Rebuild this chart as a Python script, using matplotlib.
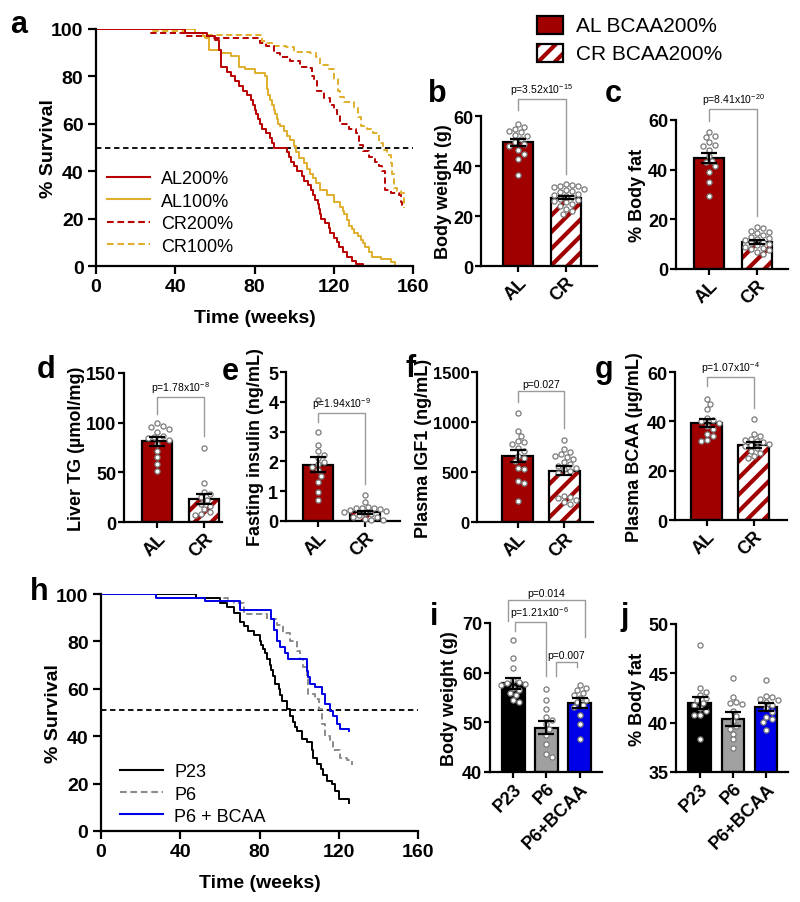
import numpy as np
import matplotlib
matplotlib.use('Agg')
import matplotlib.pyplot as plt
from matplotlib.patches import Rectangle
from matplotlib.lines import Line2D

plt.rcParams['font.family'] = ['Liberation Sans', 'DejaVu Sans']
plt.rcParams['mathtext.fontset'] = 'custom'
plt.rcParams['mathtext.rm'] = 'Liberation Sans'
plt.rcParams['mathtext.default'] = 'regular'
plt.rcParams['hatch.linewidth'] = 3.0

# ---------------- data ----------------
# survival curves (weeks, % survival)
al200 = [(0,100),(45,98.5),(56,97),(60,95.5),(62,91),(63,84),(66,82),(68,80),(70,78),(72,76),(74,74),(76,72),
         (78,70),(79,68),(80,66),(81,64),(82,62),(83,60),(84,58),(86,56),(88,54),(89,52),(90,50),(96.5,48),
         (97.5,46),(98.5,44),(100,42),(101.5,40),(104,38),(105,36),(107,34),(108.5,32),(109.5,30),(110.5,28),
         (112,26),(112.5,24),(113,22),(113.5,20),(115.5,18),(117.5,16),(118,14),(120,12),(121.5,10),(122.5,8),
         (124.5,6),(126.8,4),(129,2),(131,1),(135,0)]
al100 = [(0,100),(50,98.5),(54,97),(55,96),(57,91),(63,90),(68,88.5),(72,84),(75,83),(80,81.5),(85.5,80),
         (86.3,74.5),(87,72),(88,70),(89,68),(89.7,66),(90.5,64),(91.4,62),(92,60),(93,59),(95,57),(96.5,55),
         (98,53),(100,50.5),(101,48),(102.4,45.6),(105,43.5),(106.5,41),(108,39),(109.5,37),(111,35),(113,32),
         (116.7,30),(120,27),(123.4,25),(124.5,23),(125,22),(126.5,19.5),(127.7,17),(129,15.5),(130,14),
         (132,12.5),(133.6,11),(135,9.5),(136,8),(138,6),(139.5,4),(143.7,3),(148.7,1.5),(151,0)]
cr200 = [(0,100),(28,98.5),(45,97),(56,96),(83,94),(86,93),(90,90),(93,88),(98,86.5),(103,84),(107,83.5),
         (109,80),(110,78),(111.6,74),(115,71),(118,68),(120,66),(121.7,64),(123.4,60),(127.7,58),(131,56),
         (132.7,51),(135,48.5),(137.8,46),(141,44),(143,42),(144.5,40),(146,32),(148.7,31),(153,30),(154,27),(154.6,25)]
cr100 = [(0,100),(28,99),(45,98.5),(56,97.5),(84,95),(86,94),(90,93),(96,92.5),(100,90.5),(108,90),(111,88),
         (113,85),(117.5,83),(120,79),(122,74),(123.4,71.5),(125,69),(130,67),(132,63),(133.6,59),(137,58),
         (140,56),(143,52),(145,49),(147,47),(148.7,43.5),(149.6,39),(150.5,33),(152,31.5),(153.8,31),(155.5,24.5)]

p23 = [(0,100),(48,98.5),(60,96),(63.5,94.4),(67,92),(70,88),(72,86.7),(74.4,84.5),(77,82.5),(80,80),(81,78.5),
       (82,77),(83,75),(83.7,72.6),(85.4,70),(86,68),(87,65.6),(88,62),(89.6,60),(90.5,57.5),(91.2,55),(93.8,51.5),
       (95.5,48.7),(97,46),(98,44),(98.8,42.4),(101.3,39),(103.9,37.5),(106.4,34),(107.2,31),(108.9,28.4),(111,26),
       (112.3,23.5),(114,21),(116.5,20),(118,17),(119.9,13.6),(125,12)]
p6 = [(0,100),(48,98.5),(64,97),(67,96),(72,91.5),(84,89.5),(89,86.8),(92,83.5),(95.5,80),(99,76),(100.5,72.6),
      (102,69),(104,64),(104.7,57.6),(108,55.6),(109.8,51.5),(111.4,45),(113,40),(115.7,37.5),(117.3,34),
      (120.7,31),(124,30),(126.6,28)]
p6bcaa = [(0,100),(28,98.3),(52.5,96.9),(70,93.4),(86,89.5),(87.5,85),(88.7,80.3),(90.4,77.5),(93,75),(94.6,72.6),
          (103.9,67.7),(104.7,65),(105.6,62),(108,60.7),(111.4,58),(113,53.6),(115.7,50.8),(117.3,48.7),(119,45),
          (120.7,43),(125,42)]

groups2 = ['AL', 'CR']
groups3 = ['P23', 'P6', 'P6+BCAA']

# b: body weight
bw_mean = [49.5, 27.4]; bw_sem = [1.3, 0.7]
bw_al = [57, 55.5, 55, 54, 53.5, 52.5, 52, 51, 49.5, 49, 48, 46.5, 45, 43, 36.5]
bw_cr = [33, 32.5, 32, 32, 31.5, 31, 30.5, 30, 29.5, 29, 28.5, 28, 27.5, 27, 26.5, 26, 25.5, 25, 24, 23, 22, 21]
# c: body fat
bf_mean = [44.8, 11.0]; bf_sem = [2.0, 0.8]
bf_al = [55, 53.5, 53, 51, 50, 49.5, 48, 45.5, 43.5, 43, 41.5, 39, 35, 29.5]
bf_cr = [17, 16.5, 15.5, 15, 14.5, 13.5, 13, 12.5, 12, 11.5, 11, 10.5, 10, 9.5, 9, 8.5, 8, 7.5, 7, 6]
# d: liver TG
tg_mean = [81.5, 23.5]; tg_sem = [4.5, 5.0]
tg_al = [99.5, 97, 95.5, 94, 90.5, 87, 85.5, 84.5, 83, 78.5, 71, 65, 58.5, 51]
tg_cr = [74.5, 39.5, 30, 28.5, 25, 22, 18.5, 16.5, 13.5, 10, 8.5, 7]
# e: fasting insulin
ins_mean = [1.89, 0.30]; ins_sem = [0.25, 0.05]
ins_al = [4.05, 3.0, 2.55, 2.35, 2.2, 2.1, 1.98, 1.9, 1.8, 1.7, 1.52, 1.3, 0.97, 0.72]
ins_cr = [0.86, 0.64, 0.47, 0.45, 0.44, 0.42, 0.4, 0.38, 0.35, 0.3, 0.28, 0.25, 0.2, 0.15, 0.12, 0.08, 0.05, 0.02]
# f: plasma IGF1
igf_mean = [656, 512]; igf_sem = [60, 45]
igf_al = [1090, 915, 865, 815, 800, 780, 745, 715, 665, 645, 610, 545, 530, 410, 395, 215]
igf_cr = [825, 735, 700, 680, 665, 650, 630, 600, 580, 560, 545, 530, 510, 490, 260, 250, 240, 225, 200, 185]
# g: plasma BCAA
bc_mean = [39.3, 30.3]; bc_sem = [1.6, 1.2]
bc_al = [49, 47, 45, 41.5, 40.5, 40, 39.5, 38, 37, 35, 34, 32.5, 32]
bc_cr = [41, 35, 34, 33, 32.5, 32, 31.5, 31, 30.5, 30, 29, 28, 27, 26, 25]
# i: body weight (protein)
bwi_mean = [57.9, 48.9, 53.8]; bwi_sem = [1.1, 1.3, 1.0]
bwi_p23 = [66.5, 63, 61, 58.5, 58.2, 58, 57.8, 57.5, 57, 56.5, 56, 55.5, 54.5, 54]
bwi_p6 = [56.7, 54.5, 52.6, 51, 50.5, 49.7, 48.7, 47.5, 45.7, 43.7, 43]
bwi_bc = [57.5, 57, 56.5, 56, 55.5, 55, 54.5, 54, 53.5, 53, 51.5, 49.7, 46.6]
# j: body fat (protein)
bfj_mean = [42.0, 40.4, 41.6]; bfj_sem = [0.6, 0.7, 0.4]
bfj_p23 = [47.9, 43.5, 43.1, 42.8, 42.5, 42.3, 42, 41.8, 41.5, 41.2, 40.8, 40.8, 38.3]
bfj_p6 = [44.5, 42.6, 42.1, 42.0, 41.9, 41.2, 40.7, 40.2, 39.7, 39.4, 38.9, 38.3, 37.4]
bfj_bc = [44.3, 42.7, 42.6, 42.4, 42.3, 42.1, 41.8, 41.5, 41.1, 40.6, 40.4, 40.1, 39.3]

# ---------------- styling ----------------
RED_BAR = '#A00000'
RED_LINE = '#B80000'
GOLD = '#E0AE2C'
BLUE = '#0000E8'
GRAYBAR = '#A0A0A0'
BRACKET = '#9a9a9a'

W, H = 800, 903
fig = plt.figure(figsize=(W/100, H/100), dpi=100)


def add_ax(l, r, t, b):
    return fig.add_axes([l/W, 1 - b/H, (r - l)/W, (b - t)/H])


def base_style(ax, tl=4, pad=1.5):
    for s in ['top', 'right']:
        ax.spines[s].set_visible(False)
    for s in ['left', 'bottom']:
        ax.spines[s].set_linewidth(1.6)
    ax.tick_params(direction='out', length=tl, width=1.6, pad=pad, color='black')


def survival_panel(ax, series, xlabel='Time (weeks)'):
    base_style(ax, tl=6, pad=3)
    for data, color, ls, lab, z in series:
        t, s = zip(*data)
        ax.step(t, s, where='post', color=color, lw=1.4, ls=ls, label=lab, zorder=z)
    ax.set_xlim(0, 160)
    ax.set_ylim(0, 100)
    ax.set_xticks([0, 40, 80, 120, 160])
    ax.set_xticklabels(['0', '40', '80', '120', '160'], fontsize=14, fontweight='bold')
    ax.set_yticks([0, 20, 40, 60, 80, 100])
    ax.set_yticklabels(['0', '20', '40', '60', '80', '100'], fontsize=14, fontweight='bold')
    ax.set_xlabel(xlabel, fontsize=14, fontweight='bold', labelpad=10)
    ax.set_ylabel('% Survival', fontsize=14, fontweight='bold', labelpad=-4.5)


def swarm_x(ax, x0, vals, dpx=6.0):
    trans = ax.transData
    inv = trans.inverted()
    xs = np.zeros(len(vals))
    placed = []
    order = np.argsort(vals)[::-1]
    for i in order:
        px, py = trans.transform((x0, vals[i]))
        cx = px
        found = False
        for k in range(0, 30):
            for sgn in ([0] if k == 0 else [1, -1]):
                cx = px + sgn * k * dpx * 0.5
                if all((cx - qx) ** 2 + (py - qy) ** 2 >= (dpx * 0.95) ** 2 for qx, qy in placed):
                    found = True
                    break
            if found:
                break
        placed.append((cx, py))
        xs[i] = inv.transform((cx, py))[0]
    return xs


def bar_panel(ax, means, sems, dots, colors, hatched, xlim, ylim, yticks, ylabel, labels, width,
              lpad=3, ytfs=13):
    base_style(ax)
    x = np.arange(len(means))
    ax.set_xlim(*xlim)
    ax.set_ylim(ylim[0], ylim[1])
    b0 = ylim[0]
    for xi, m, c, h in zip(x, means, colors, hatched):
        if h:
            ax.bar(xi, m - b0, bottom=b0, width=width, color='white', edgecolor=c, hatch='//', lw=0, zorder=2)
            ax.bar(xi, m - b0, bottom=b0, width=width, fill=False, edgecolor='black', lw=1.6, zorder=2.5)
        else:
            ax.bar(xi, m - b0, bottom=b0, width=width, color=c, edgecolor='black', lw=1.6, zorder=2)
    for xi, d in zip(x, dots):
        xs = swarm_x(ax, xi, d)
        ax.plot(xs, d, 'o', ms=3.7, mfc='white', mec='#7a7a7a', mew=0.9, zorder=3, clip_on=False)
    ax.errorbar(x, means, yerr=sems, fmt='none', ecolor='black', elinewidth=1.6, capsize=6, capthick=1.6, zorder=4)
    ax.set_yticks(yticks)
    ax.set_yticklabels([str(v) for v in yticks], fontsize=ytfs, fontweight='bold')
    ax.set_xticks(x)
    ax.set_xticklabels(labels, fontsize=13, fontweight='bold', rotation=45, ha='right', rotation_mode='anchor')
    ax.set_ylabel(ylabel, fontsize=13, fontweight='bold', labelpad=lpad)


def bracket(ax, x1, x2, ytop, yl, yr, text, tx=None, ty=None):
    ax.plot([x1, x1, x2, x2], [yl, ytop, ytop, yr], color=BRACKET, lw=1.0, clip_on=False, zorder=5)
    if tx is None:
        tx = (x1 + x2) / 2
    if ty is None:
        ty = ytop
    ax.annotate(text, (tx, ty), xytext=(0, 1.5), textcoords='offset points', ha='center', va='bottom',
                fontsize=7.5, annotation_clip=False)


# ---------------- panel a ----------------
axa = add_ax(96, 413, 30, 267)
survival_panel(axa, [
    (cr100, GOLD, (0, (3.2, 1.8)), 'CR100%', 2),
    (cr200, RED_LINE, (0, (3.2, 1.8)), 'CR200%', 2.1),
    (al100, GOLD, '-', 'AL100%', 2.2),
    (al200, RED_LINE, '-', 'AL200%', 2.3),
])
axa.axhline(50, color='black', ls=(0, (3, 2)), lw=1.3, zorder=1)
h_a = [Line2D([], [], color=RED_LINE, lw=1.5), Line2D([], [], color=GOLD, lw=1.5),
       Line2D([], [], color=RED_LINE, lw=1.5, ls=(0, (3.2, 1.8))), Line2D([], [], color=GOLD, lw=1.5, ls=(0, (3.2, 1.8)))]
axa.legend(h_a, ['AL200%', 'AL100%', 'CR200%', 'CR100%'], loc='upper left', bbox_to_anchor=(0.035, 0.405),
           frameon=False, fontsize=13, handlelength=2.4, handletextpad=0.6, labelspacing=0.31,
           borderpad=0, borderaxespad=0)

# ---------------- panel b ----------------
axb = add_ax(481, 597, 117, 267)
bar_panel(axb, bw_mean, bw_sem, [bw_al, bw_cr], [RED_BAR, RED_BAR], [False, True], (-0.78, 1.66), (0, 60),
          [0, 20, 40, 60], 'Body weight (g)', groups2, 0.63, lpad=1.0)
bracket(axb, 0, 1, 66.8, 62.4, 36.8, r'p=3.52x10$^{-15}$')

# ---------------- panel c ----------------
axc = add_ax(676, 788, 121, 270)
bar_panel(axc, bf_mean, bf_sem, [bf_al, bf_cr], [RED_BAR, RED_BAR], [False, True], (-0.69, 1.65), (0, 60),
          [0, 20, 40, 60], '% Body fat', groups2, 0.625, lpad=1.5)
bracket(axc, 0, 1, 64.4, 59.6, 21.3, r'p=8.41x10$^{-20}$')

# ---------------- panel d ----------------
axd = add_ax(124, 222, 374, 523)
bar_panel(axd, tg_mean, tg_sem, [tg_al, tg_cr], [RED_BAR, RED_BAR], [False, True], (-0.70, 1.38), (0, 150),
          [0, 50, 100, 150], 'Liver TG (\u00b5mol/mg)', groups2, 0.64, lpad=0.5)
bracket(axd, 0, 1, 125.8, 108.7, 86.6, r'p=1.78x10$^{-8}$')

# ---------------- panel e ----------------
axe = add_ax(286, 400, 373, 522)
bar_panel(axe, ins_mean, ins_sem, [ins_al, ins_cr], [RED_BAR, RED_BAR], [False, True], (-0.68, 1.74), (0, 5),
          [0, 1, 2, 3, 4, 5], 'Fasting insulin (ng/mL)', groups2, 0.64)
bracket(axe, 0, 1, 3.62, 3.32, 1.24, r'p=1.94x10$^{-9}$')

# ---------------- panel f ----------------
axf = add_ax(477, 593, 373, 523)
bar_panel(axf, igf_mean, igf_sem, [igf_al, igf_cr], [RED_BAR, RED_BAR], [False, True], (-0.87, 1.62), (0, 1500),
          [0, 500, 1000, 1500], 'Plasma IGF1 (ng/mL)', groups2, 0.67, lpad=0.5, ytfs=12)
bracket(axf, 0, 1, 1310, 1200, 940, 'p=0.027')

# ---------------- panel g ----------------
axg = add_ax(675, 787, 373, 521)
bar_panel(axg, bc_mean, bc_sem, [bc_al, bc_cr], [RED_BAR, RED_BAR], [False, True], (-0.67, 1.71), (0, 60),
          [0, 20, 40, 60], 'Plasma BCAA (\u00b5g/mL)', groups2, 0.66)
bracket(axg, 0, 1, 58, 54.3, 45.4, r'p=1.07x10$^{-4}$')

# ---------------- panel h ----------------
axh = add_ax(101, 418, 595, 832)
survival_panel(axh, [
    (p6, '#8a8a8a', (0, (3.2, 1.8)), 'P6', 2),
    (p23, 'black', '-', 'P23', 2.1),
    (p6bcaa, BLUE, '-', 'P6 + BCAA', 2.2),
])
axh.axhline(51, color='black', ls=(0, (3, 2)), lw=1.3, zorder=1)
h_h = [Line2D([], [], color='black', lw=1.5), Line2D([], [], color='#8a8a8a', lw=1.5, ls=(0, (3.2, 1.8))),
       Line2D([], [], color=BLUE, lw=1.5)]
axh.legend(h_h, ['P23', 'P6', 'P6 + BCAA'], loc='upper left', bbox_to_anchor=(0.06, 0.285),
           frameon=False, fontsize=13, handlelength=2.4, handletextpad=0.6, labelspacing=0.28,
           borderpad=0, borderaxespad=0)

# ---------------- panel i ----------------
axi = add_ax(490, 602, 624, 773)
bar_panel(axi, bwi_mean, bwi_sem, [bwi_p23, bwi_p6, bwi_bc], ['black', GRAYBAR, BLUE], [False, False, False],
          (-0.71, 2.68), (40, 70), [40, 50, 60, 70], 'Body weight (g)', groups3, 0.70)
bracket(axi, -0.17, 2.17, 74.6, 70.4, 67.2, 'p=0.014')
bracket(axi, 0.05, 1.0, 70.2, 68.4, 59.3, r'p=1.21x10$^{-6}$', tx=0.8)
bracket(axi, 1.29, 1.92, 62.1, 59.3, 61.1, 'p=0.007')

# ---------------- panel j ----------------
axj = add_ax(676, 788, 625, 773)
bar_panel(axj, bfj_mean, bfj_sem, [bfj_p23, bfj_p6, bfj_bc], ['black', GRAYBAR, BLUE], [False, False, False],
          (-0.71, 2.66), (35, 50), [35, 40, 45, 50], '% Body fat', groups3, 0.68, lpad=1.6)

# ---------------- top legend ----------------
def fig_rect(l, t, w, h, **kw):
    r = Rectangle((l/W, 1 - (t + h)/H), w/W, h/H, transform=fig.transFigure, **kw)
    fig.add_artist(r)

fig_rect(537, 17, 26, 18, facecolor=RED_BAR, edgecolor='black', lw=1.6)
fig_rect(537, 45, 26, 18, facecolor='white', edgecolor=RED_BAR, hatch='//', lw=0)
fig_rect(537, 45, 26, 18, fill=False, edgecolor='black', lw=1.6)
fig.text(576/W, 1 - 26/H, 'AL BCAA200%', fontsize=15, va='center', ha='left')
fig.text(576/W, 1 - 54/H, 'CR BCAA200%', fontsize=15, va='center', ha='left')

# ---------------- panel letters ----------------
letters = [('a', 10, 33), ('b', 428, 102), ('c', 605, 102), ('d', 37, 378), ('e', 222, 380),
           ('f', 405, 377), ('g', 595, 378), ('h', 30, 600), ('i', 430, 625), ('j', 620, 625)]
for L, x, y in letters:
    fig.text(x/W, 1 - y/H, L, fontsize=22, fontweight='bold', ha='left', va='baseline')

fig.savefig('out.png', dpi=100)
